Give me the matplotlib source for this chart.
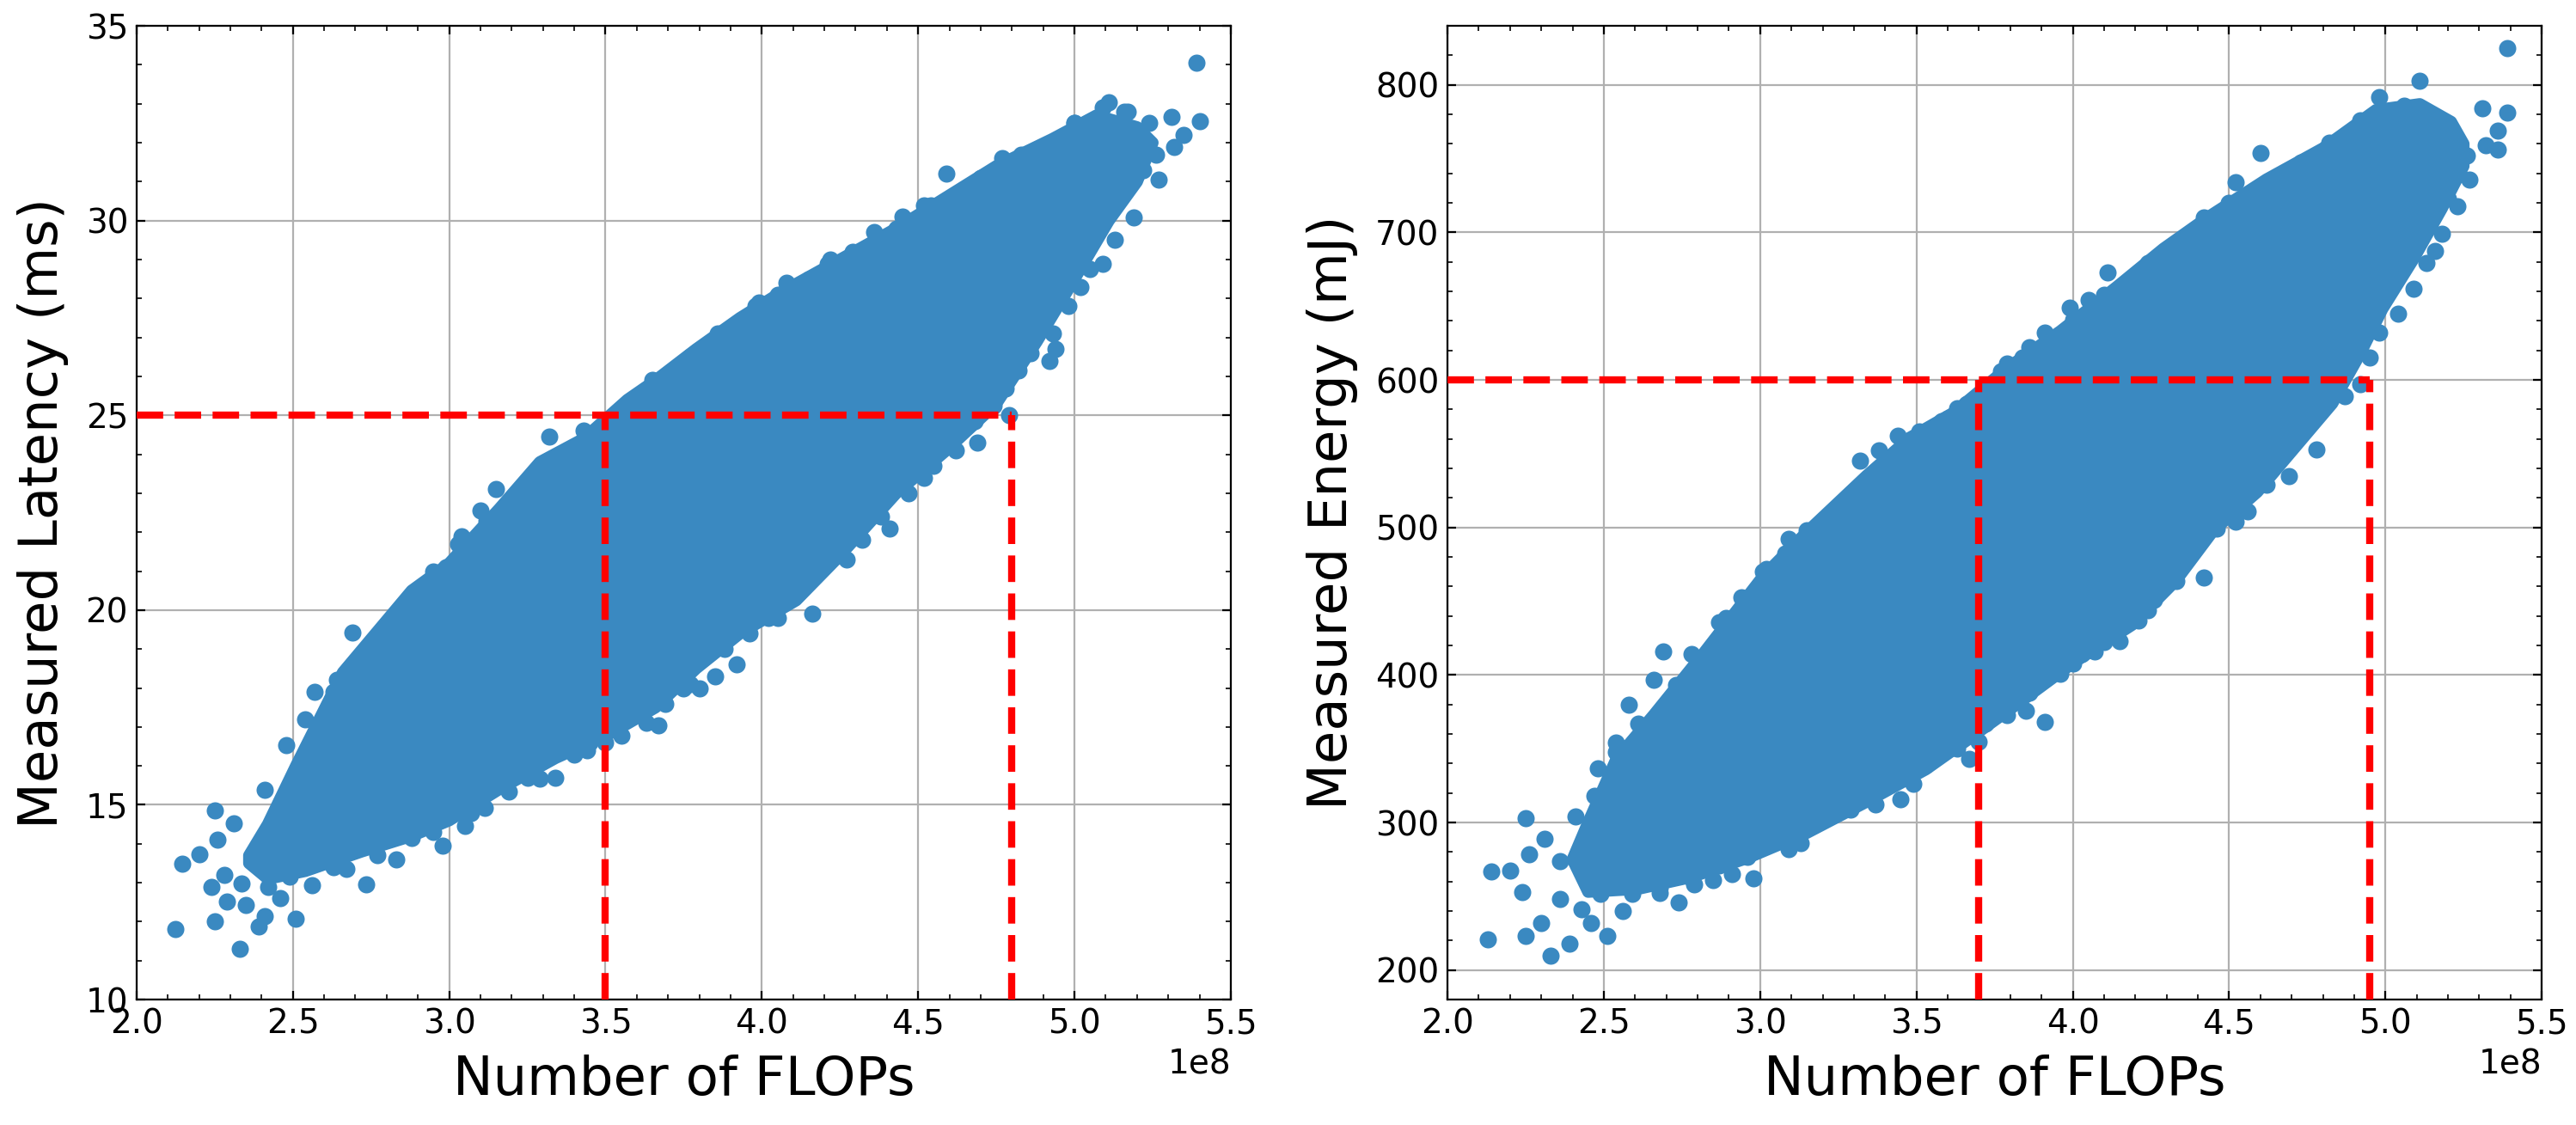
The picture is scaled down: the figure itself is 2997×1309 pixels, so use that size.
"""FLOPs vs measured latency / energy scatter with budget lines.

Writes:
    out.png
"""

from __future__ import annotations

import sys

import matplotlib

matplotlib.use("Agg")
import matplotlib.pyplot as plt  # noqa: E402
import numpy as np  # noqa: E402
from matplotlib.ticker import AutoMinorLocator  # noqa: E402

POINT_COLOR = "#3A89C1"
FLOPS_UNIT = 1e8

# ---- latency panel (FLOPs in units of 1e8) ----
# envelope of the dense cloud
lat_upper_x = [2.36, 2.42, 2.51, 2.66, 2.88, 3.00, 3.16, 3.29, 3.43, 3.57, 3.66, 3.79,
               3.93, 4.07, 4.25, 4.43, 4.59, 4.75, 4.93, 5.07, 5.20, 5.25]
lat_upper_y = [13.7, 14.5, 16.0, 18.4, 20.5, 21.2, 22.6, 23.8, 24.4, 25.4, 25.9, 26.7,
               27.5, 28.2, 29.0, 29.8, 30.6, 31.4, 32.1, 32.7, 32.4, 32.0]
lat_lower_x = [2.36, 2.42, 2.54, 2.72, 2.88, 3.00, 3.16, 3.34, 3.52, 3.66, 3.79, 3.93,
               4.11, 4.25, 4.43, 4.59, 4.75, 4.88, 5.00, 5.11, 5.20, 5.25]
lat_lower_y = [13.5, 13.1, 13.3, 13.8, 14.2, 14.6, 15.4, 16.2, 16.85, 17.5, 18.5, 19.4,
               20.25, 21.4, 23.0, 24.1, 25.3, 26.9, 28.5, 30.0, 31.0, 32.0]
# points sitting on the rim of the cloud
lat_edge_x = [4.66, 4.70, 4.77, 4.83, 5.00, 5.02, 4.96, 5.09, 5.16, 5.24, 5.26, 5.22,
              5.13, 5.09, 5.05, 5.02, 4.98, 4.93, 4.86, 4.82, 4.74, 4.68, 4.55, 4.52,
              4.38, 4.32, 4.23, 4.09, 4.02, 3.88, 3.80, 3.75, 3.63, 3.45, 3.40, 3.25,
              3.07, 2.95, 2.88, 2.77, 2.63,
              2.63, 2.73, 2.76, 2.84, 2.95, 2.99, 3.04, 3.12, 3.21, 3.25, 3.37, 3.49,
              3.59, 3.70, 3.77, 3.86, 3.98, 4.05, 4.21, 4.29, 4.43, 4.54]
lat_edge_y = [30.75, 31.1, 31.6, 31.7, 32.5, 32.3, 32.0, 32.9, 32.8, 32.5, 31.7, 31.3,
              30.4, 28.9, 28.75, 28.3, 27.8, 27.1, 26.6, 26.15, 25.26, 24.85, 23.7, 23.4,
              22.4, 21.8, 21.4, 20.5, 19.8, 19.0, 18.0, 18.0, 17.1, 16.6, 16.3, 15.7,
              14.8, 14.3, 14.15, 13.7, 13.4,
              17.9, 18.7, 19.0, 19.7, 21.0, 21.1, 21.9, 22.3, 22.9, 23.2, 23.9, 24.5,
              25.3, 26.0, 26.5, 27.1, 27.8, 28.1, 28.9, 29.2, 29.8, 30.4]
# isolated points around the cloud
lat_pts_x = [5.39, 5.40, 5.31, 5.35, 5.32, 5.27, 5.19, 5.13, 5.11, 5.17, 4.59, 4.92,
             4.94, 4.79, 4.78, 4.69, 4.62, 4.47, 4.41, 4.27, 4.16, 4.05, 3.96, 3.92,
             3.85, 3.77, 3.67, 3.69, 3.55, 3.50, 3.44, 3.34, 3.29, 3.19, 3.115, 3.05,
             2.98, 2.83, 2.735, 2.67, 2.56, 2.49, 2.42, 2.335, 2.28, 2.24, 2.29, 2.35,
             2.46, 2.51, 2.41, 2.39, 2.25, 2.33, 2.124, 2.145, 2.20, 2.26, 2.31, 2.25,
             2.41, 2.48, 2.54, 2.57, 2.64, 2.69, 2.80, 2.89, 3.03, 3.10, 3.15, 3.30,
             3.32, 3.38, 3.43, 3.65, 3.74, 3.99, 4.08, 4.15, 4.22, 4.36, 4.45, 4.52,
             4.83, 4.92, 5.00, 5.07]
lat_pts_y = [34.06, 32.56, 32.67, 32.2, 31.9, 31.06, 30.08, 29.5, 33.04, 32.8, 31.2, 26.4,
             26.7, 25.0, 25.7, 24.3, 24.1, 23.0, 22.1, 21.3, 19.9, 19.8, 19.4, 18.6,
             18.3, 18.1, 17.05, 17.6, 16.78, 16.6, 16.4, 15.7, 15.67, 15.34, 14.92, 14.46,
             13.95, 13.6, 12.95, 13.35, 12.93, 13.16, 12.9, 12.98, 13.2, 12.9, 12.52, 12.43,
             12.6, 12.07, 12.14, 11.88, 12.0, 11.31, 11.82, 13.49, 13.72, 14.11, 14.53, 14.86,
             15.38, 16.54, 17.19, 17.89, 18.21, 19.42, 19.4, 20.44, 21.7, 22.55, 23.1, 23.56,
             24.45, 24.1, 24.6, 25.9, 18.12, 27.9, 28.4, 28.5, 29.0, 29.7, 30.1, 30.4,
             31.6, 31.9, 32.5, 32.6]
lat_budget = 25
lat_flops_marks = [3.5, 4.8]

# ---- energy panel ----
en_upper_x = [2.40, 2.45, 2.54, 2.66, 2.82, 3.01, 3.15, 3.34, 3.48, 3.62, 3.79, 3.96,
              4.14, 4.29, 4.43, 4.62, 4.80, 4.97, 5.11, 5.21, 5.25]
en_upper_y = [275, 300, 343, 373, 415, 467, 497, 535, 561, 578, 608, 633,
              663, 689, 710, 736, 757, 783, 787, 775, 760]
en_lower_x = [2.40, 2.45, 2.61, 2.78, 2.96, 3.15, 3.34, 3.53, 3.67, 3.84, 4.00, 4.19,
              4.33, 4.45, 4.59, 4.71, 4.83, 4.92, 4.99, 5.09, 5.18, 5.25]
en_lower_y = [275, 253, 255, 263, 276, 293, 314, 336, 357, 383, 408, 434,
              464, 498, 524, 554, 584, 618, 648, 682, 716, 745]
en_edge_x = [2.47, 2.54, 2.61, 2.73, 2.78, 2.87, 2.94, 3.01, 3.08, 3.18, 3.25, 3.34,
             3.41, 3.48, 3.58, 3.63, 3.77, 3.84, 3.91, 4.00, 4.10, 4.19, 4.24, 4.33,
             4.40, 4.45, 4.54, 4.66, 4.73, 4.85, 4.90, 5.02, 5.06, 5.13, 5.18, 5.23,
             5.23, 5.16, 5.09, 5.04, 4.98, 4.95, 4.87, 4.78, 4.73, 4.66, 4.62, 4.54,
             4.47, 4.40, 4.36, 4.29, 4.24, 4.17, 4.10, 4.03, 3.96, 3.86, 3.79, 3.72,
             3.63, 3.53, 3.46, 3.34, 3.25, 3.15, 3.06, 2.96, 2.87, 2.78, 2.68, 2.59,
             2.49]
en_edge_y = [318, 354, 367, 393, 414, 435.5, 452.5, 470, 482.4, 499.5, 504, 529,
             546.6, 559, 572, 581, 606, 615, 632, 640.6, 657.7, 666, 679, 687.6,
             700.5, 709, 717.6, 734.7, 747.5, 760, 769, 777, 786, 777, 760, 739,
             717.6, 687.6, 662, 645, 632, 615, 589, 576, 564, 546.6, 529, 516.6,
             508, 491, 478, 461, 444, 435.4, 422.6, 414, 401, 388, 380, 367,
             350, 339, 333, 320, 311.4, 303, 290, 277, 271, 262, 256, 251.6,
             251.6]
en_pts_x = [5.39, 5.39, 5.36, 5.36, 5.31, 5.32, 5.26, 5.27, 5.20, 5.18, 5.13, 5.11,
            4.98, 4.92, 4.82, 4.60, 4.52, 4.42, 4.50, 4.11, 4.05, 3.99, 3.86, 3.79,
            4.92, 4.78, 4.69, 4.56, 4.52, 4.46, 4.42, 4.33, 4.26, 4.21, 4.15, 4.07,
            4.00, 3.91, 3.85, 3.79, 3.70, 3.67, 3.49, 3.45, 3.37, 3.29, 3.20, 3.13,
            3.09, 2.98, 2.91, 2.85, 2.79, 2.74, 2.68, 2.56, 2.51, 2.46, 2.39, 2.33,
            2.25, 2.13, 2.14, 2.20, 2.24, 2.26, 2.25, 2.31, 2.30, 2.36, 2.36, 2.41,
            2.43, 2.48, 2.54, 2.58, 2.66, 2.69, 2.89, 2.98, 3.02, 3.09, 3.15, 3.32,
            3.38, 3.44, 3.51, 3.60, 3.66]
en_pts_y = [825, 781, 769, 756, 784, 759, 752, 735.5, 723, 699, 679, 803,
            792, 776, 761, 754, 734, 710, 720, 673, 654, 649, 622, 611,
            597, 553, 535, 511, 504, 499, 466, 464, 451, 437, 423, 416,
            408, 368, 376, 373, 355, 343, 326, 316, 312, 309, 303, 286,
            282, 262, 265, 261, 258, 246, 252, 240, 223, 232, 218, 210,
            223, 221, 267, 267.5, 252.6, 278.5, 303, 289, 232, 274, 248, 304,
            241, 337, 348, 380, 397, 416, 438.5, 449, 472, 492, 498, 545,
            552, 562, 565, 574, 584]
en_budget = 600
en_flops_marks = [3.7, 4.95]


def _cloud(ax, upper_x, upper_y, lower_x, lower_y, edge_x, edge_y, pts_x, pts_y) -> None:
    poly_x = np.concatenate([upper_x, lower_x[::-1]]) * FLOPS_UNIT
    poly_y = np.concatenate([upper_y, lower_y[::-1]])
    ax.fill(poly_x, poly_y, color=POINT_COLOR, lw=5, joinstyle="round", zorder=2)
    xs = np.concatenate([edge_x, pts_x]) * FLOPS_UNIT
    ys = np.concatenate([edge_y, pts_y])
    ax.scatter(xs, ys, s=52, linewidths=0, color=POINT_COLOR, zorder=2)


def _budget_lines(ax, budget, marks, x0, y0) -> None:
    ax.hlines(budget, x0, max(marks) * FLOPS_UNIT, colors="red", linestyles="--",
              lw=3, zorder=3)
    ax.vlines(np.array(marks) * FLOPS_UNIT, y0, budget, colors="red",
              linestyles="--", lw=3, zorder=3)


def _style(ax, ylabel, xlim, ylim) -> None:
    ax.set_xlim(xlim[0] * FLOPS_UNIT, xlim[1] * FLOPS_UNIT)
    ax.set_ylim(*ylim)
    ax.set_xlabel("Number of FLOPs", fontsize=22.5, labelpad=6)
    ax.set_ylabel(ylabel, fontsize=22.5, labelpad=7)
    ax.xaxis.set_minor_locator(AutoMinorLocator())
    ax.yaxis.set_minor_locator(AutoMinorLocator())
    ax.tick_params(which="both", direction="in", top=True, right=True, labelsize=14)
    ax.xaxis.get_offset_text().set_fontsize(14)
    ax.grid(True, which="major", color="#b0b0b0", lw=0.8)
    ax.set_axisbelow(True)


def main() -> int:
    fig, (ax_l, ax_e) = plt.subplots(1, 2, figsize=(14.985, 6.545), dpi=200)
    fig.subplots_adjust(left=0.053, right=0.9867, bottom=0.1115, top=0.977, wspace=0.198)

    _cloud(ax_l, lat_upper_x, lat_upper_y, lat_lower_x, lat_lower_y,
           lat_edge_x, lat_edge_y, lat_pts_x, lat_pts_y)
    _style(ax_l, "Measured Latency (ms)", (2.0, 5.5), (10, 35))
    _budget_lines(ax_l, lat_budget, lat_flops_marks, 2.0 * FLOPS_UNIT, 10)

    _cloud(ax_e, en_upper_x, en_upper_y, en_lower_x, en_lower_y,
           en_edge_x, en_edge_y, en_pts_x, en_pts_y)
    _style(ax_e, "Measured Energy (mJ)", (2.0, 5.5), (180, 840))
    _budget_lines(ax_e, en_budget, en_flops_marks, 2.0 * FLOPS_UNIT, 180)

    fig.savefig("out.png", dpi=200)
    plt.close(fig)
    return 0


if __name__ == "__main__":
    sys.exit(main())
